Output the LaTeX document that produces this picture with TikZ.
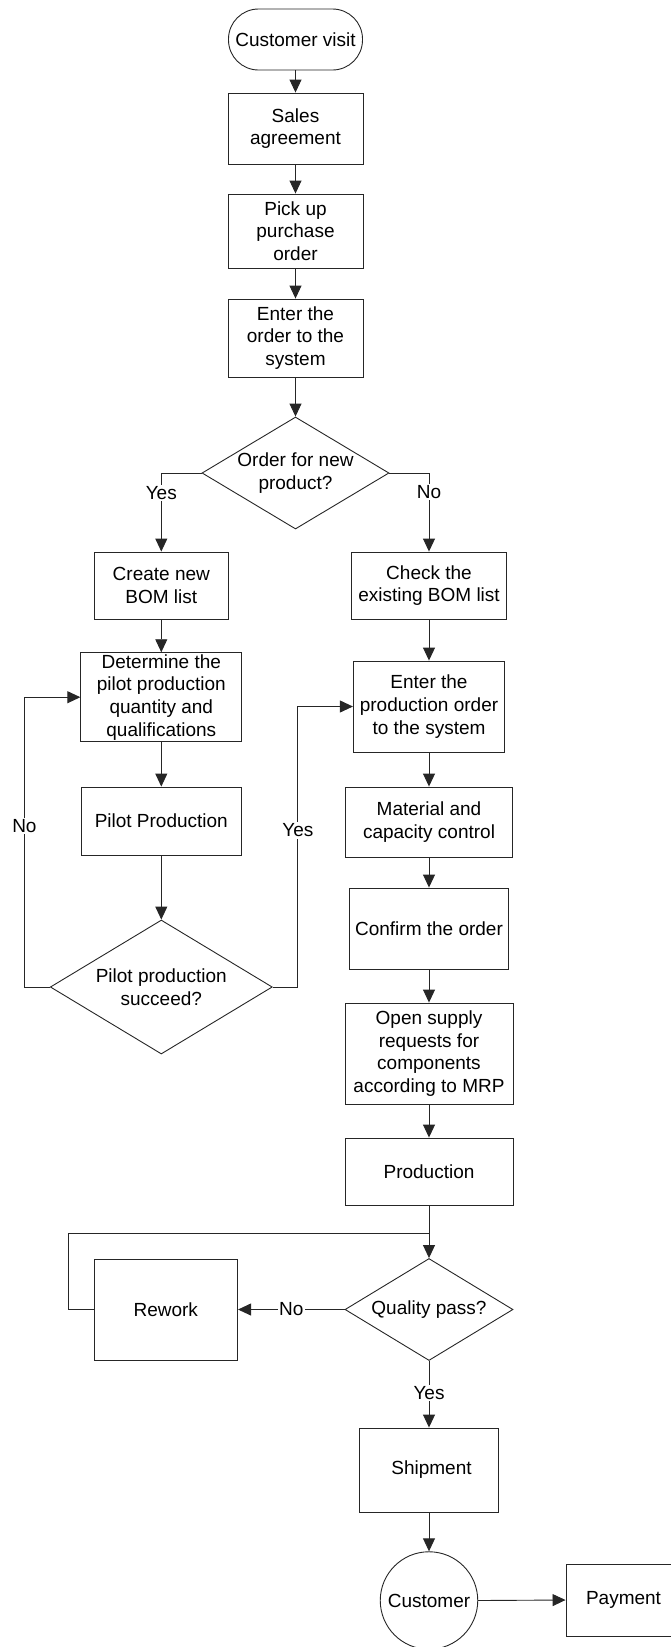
\documentclass[tikz,border=0pt]{standalone}
\usepackage{fontspec}
\setmainfont{Liberation Sans}
\usetikzlibrary{shapes.geometric,arrows.meta}
\begin{document}
\begin{tikzpicture}[x=1pt,y=-1pt,
  base/.style={draw=black!85, line width=0.9pt, align=center, inner sep=0pt,
    font=\fontsize{19}{22.7}\selectfont},
  box/.style={base, rectangle},
  term/.style={base, rectangle, rounded corners=30pt},
  dec/.style={base, diamond},
  circ/.style={base, circle},
  lbl/.style={fill=white, inner sep=1.5pt, font=\fontsize{19}{22.7}\selectfont},
  arr/.style={draw=black!85, line width=0.9pt, -{Triangle[length=13pt,width=12pt]}},
  ln/.style={draw=black!85, line width=0.9pt}
]
\useasboundingbox (0,0) rectangle (670,1647);

% main column
\node[term, minimum width=134pt, minimum height=61pt] (cv) at (295.5,39.5) {Customer visit};
\node[box, minimum width=135pt, minimum height=71pt] (sa) at (295.5,128.5) {Sales\\agreement};
\node[box, minimum width=135pt, minimum height=74pt] (pk) at (295.5,231) {Pick up\\purchase\\order};
\node[box, minimum width=135pt, minimum height=78pt] (en) at (295.5,338) {Enter the\\order to the\\system};
\node[dec, shape aspect=1.67, minimum width=187pt, minimum height=112pt] (d1) at (295.5,473) {Order for new\\product?};

% new product branch
\node[box, minimum width=134.6pt, minimum height=67pt] (cr) at (161.3,585.5) {Create new\\BOM list};
\node[box, minimum width=161pt, minimum height=89pt] (dt) at (161.3,697.2) {Determine the\\pilot production\\quantity and\\qualifications};
\node[box, minimum width=159.5pt, minimum height=68pt] (pp) at (161.3,821) {Pilot Production};
\node[dec, shape aspect=1.657, minimum width=222pt, minimum height=134pt] (d2) at (161.3,987) {Pilot production\\succeed?};

% existing product branch
\node[box, minimum width=154.4pt, minimum height=67pt] (ck) at (429,585.5) {Check the\\existing BOM list};
\node[box, minimum width=151.3pt, minimum height=91pt] (ep) at (429,706.5) {Enter the\\production order\\to the system};
\node[box, minimum width=167.5pt, minimum height=70pt] (mc) at (429,822) {Material and\\capacity control};
\node[box, minimum width=159pt, minimum height=81pt] (cf) at (429,928.5) {Confirm the order};
\node[box, minimum width=168pt, minimum height=101pt] (os) at (429,1053.5) {Open supply\\requests for\\components\\according to MRP};
\node[box, minimum width=168pt, minimum height=67pt] (pr) at (429,1171.5) {Production};
\node[dec, shape aspect=1.647, minimum width=168pt, minimum height=102pt] (qd) at (429,1309.5) {Quality pass?};
\node[box, minimum width=143.6pt, minimum height=101pt] (rw) at (165.8,1309.5) {Rework};
\node[box, minimum width=139.7pt, minimum height=84pt] (sh) at (429,1470) {\hspace*{5pt}Shipment};
\node[circ, minimum size=97.5pt] (cu) at (429,1600.5) {Customer};
\node[box, minimum width=115pt, minimum height=72pt] (pm) at (623.5,1600) {Payment};

% loop corners
\coordinate (nl) at (24.4,987);
\coordinate (yl) at (297.9,987);
\coordinate (jn) at (429,1233);

% connectors
\draw[arr] (cv) -- (sa);
\draw[arr] (sa) -- (pk);
\draw[arr] (pk) -- (en);
\draw[arr] (en) -- (d1);
\draw[arr] (d1.west) -| node[lbl, pos=0.627] (ly1) {Yes} (cr.north);
\draw[arr] (d1.east) -| node[lbl, pos=0.62] (ln1) {No} (ck.north);
\draw[arr] (cr) -- (dt);
\draw[arr] (dt) -- (pp);
\draw[arr] (pp) -- (d2);
\draw[arr] (d2.west) -- (nl) |- node[lbl, pos=0.278] (ln2) {No} (dt.west);
\draw[arr] (d2.east) -- (yl) |- node[lbl, pos=0.279] (ly2) {Yes} (ep.west);
\draw[arr] (ck) -- (ep);
\draw[arr] (ep) -- (mc);
\draw[arr] (mc) -- (cf);
\draw[arr] (cf) -- (os);
\draw[arr] (os) -- (pr);
\draw[arr] (pr) -- (qd);
\draw[arr] (qd.west) -- node[lbl, pos=0.5] (ln3) {No} (rw.east);
\draw[ln] (rw.west) -- ++(-25,0) |- (jn);
\draw[arr] (qd.south) -- node[lbl, pos=0.48] (ly3) {Yes} (sh.north);
\draw[arr] (sh) -- (cu);
\draw[arr] (cu.east) -- (pm.west);
\end{tikzpicture}
\end{document}
